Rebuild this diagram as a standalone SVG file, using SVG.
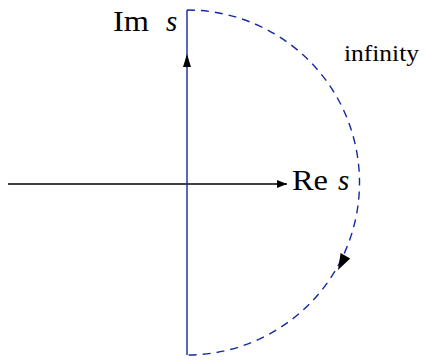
<svg xmlns="http://www.w3.org/2000/svg" width="425" height="360" viewBox="0 0 425 360">
<style>
.lbl{font-family:"Liberation Serif","DejaVu Serif",serif;font-size:29px;fill:#000}
.it{font-style:italic}
.blue{stroke:#1428a0;stroke-width:1.4;fill:none}
</style>
<defs>
<marker id="ah" viewBox="0 0 10 8" refX="10" refY="4" markerWidth="11" markerHeight="8" markerUnits="userSpaceOnUse" orient="auto">
<path d="M0,0 L10,4 L0,8 z" fill="#000"/>
</marker>
</defs>
<g id="connectors">
<line x1="8" y1="184" x2="287" y2="184" stroke="#000" stroke-width="1.4" marker-end="url(#ah)"/>
<line class="blue" x1="187" y1="355" x2="187" y2="10"/>
<path class="blue" d="M187,10 A172.5,172.5 0 0 1 187,355" stroke-dasharray="8 6"/>
<polygon points="187,54 183,67 191,67" fill="#000"/>
<polygon points="338,270 350.2,258.4 340.6,253" fill="#000"/>
</g>
<g id="im"><text class="lbl" x="113" y="31" textLength="36" lengthAdjust="spacingAndGlyphs">Im</text><text class="lbl it" x="166" y="31">s</text></g>
<g id="re"><text class="lbl" x="292" y="190" textLength="36" lengthAdjust="spacingAndGlyphs">Re</text><text class="lbl it" x="338" y="190">s</text></g>
<g id="infinity"><text class="lbl" x="344" y="61" style="font-size:24px" textLength="75" lengthAdjust="spacingAndGlyphs">infinity</text></g>
</svg>
